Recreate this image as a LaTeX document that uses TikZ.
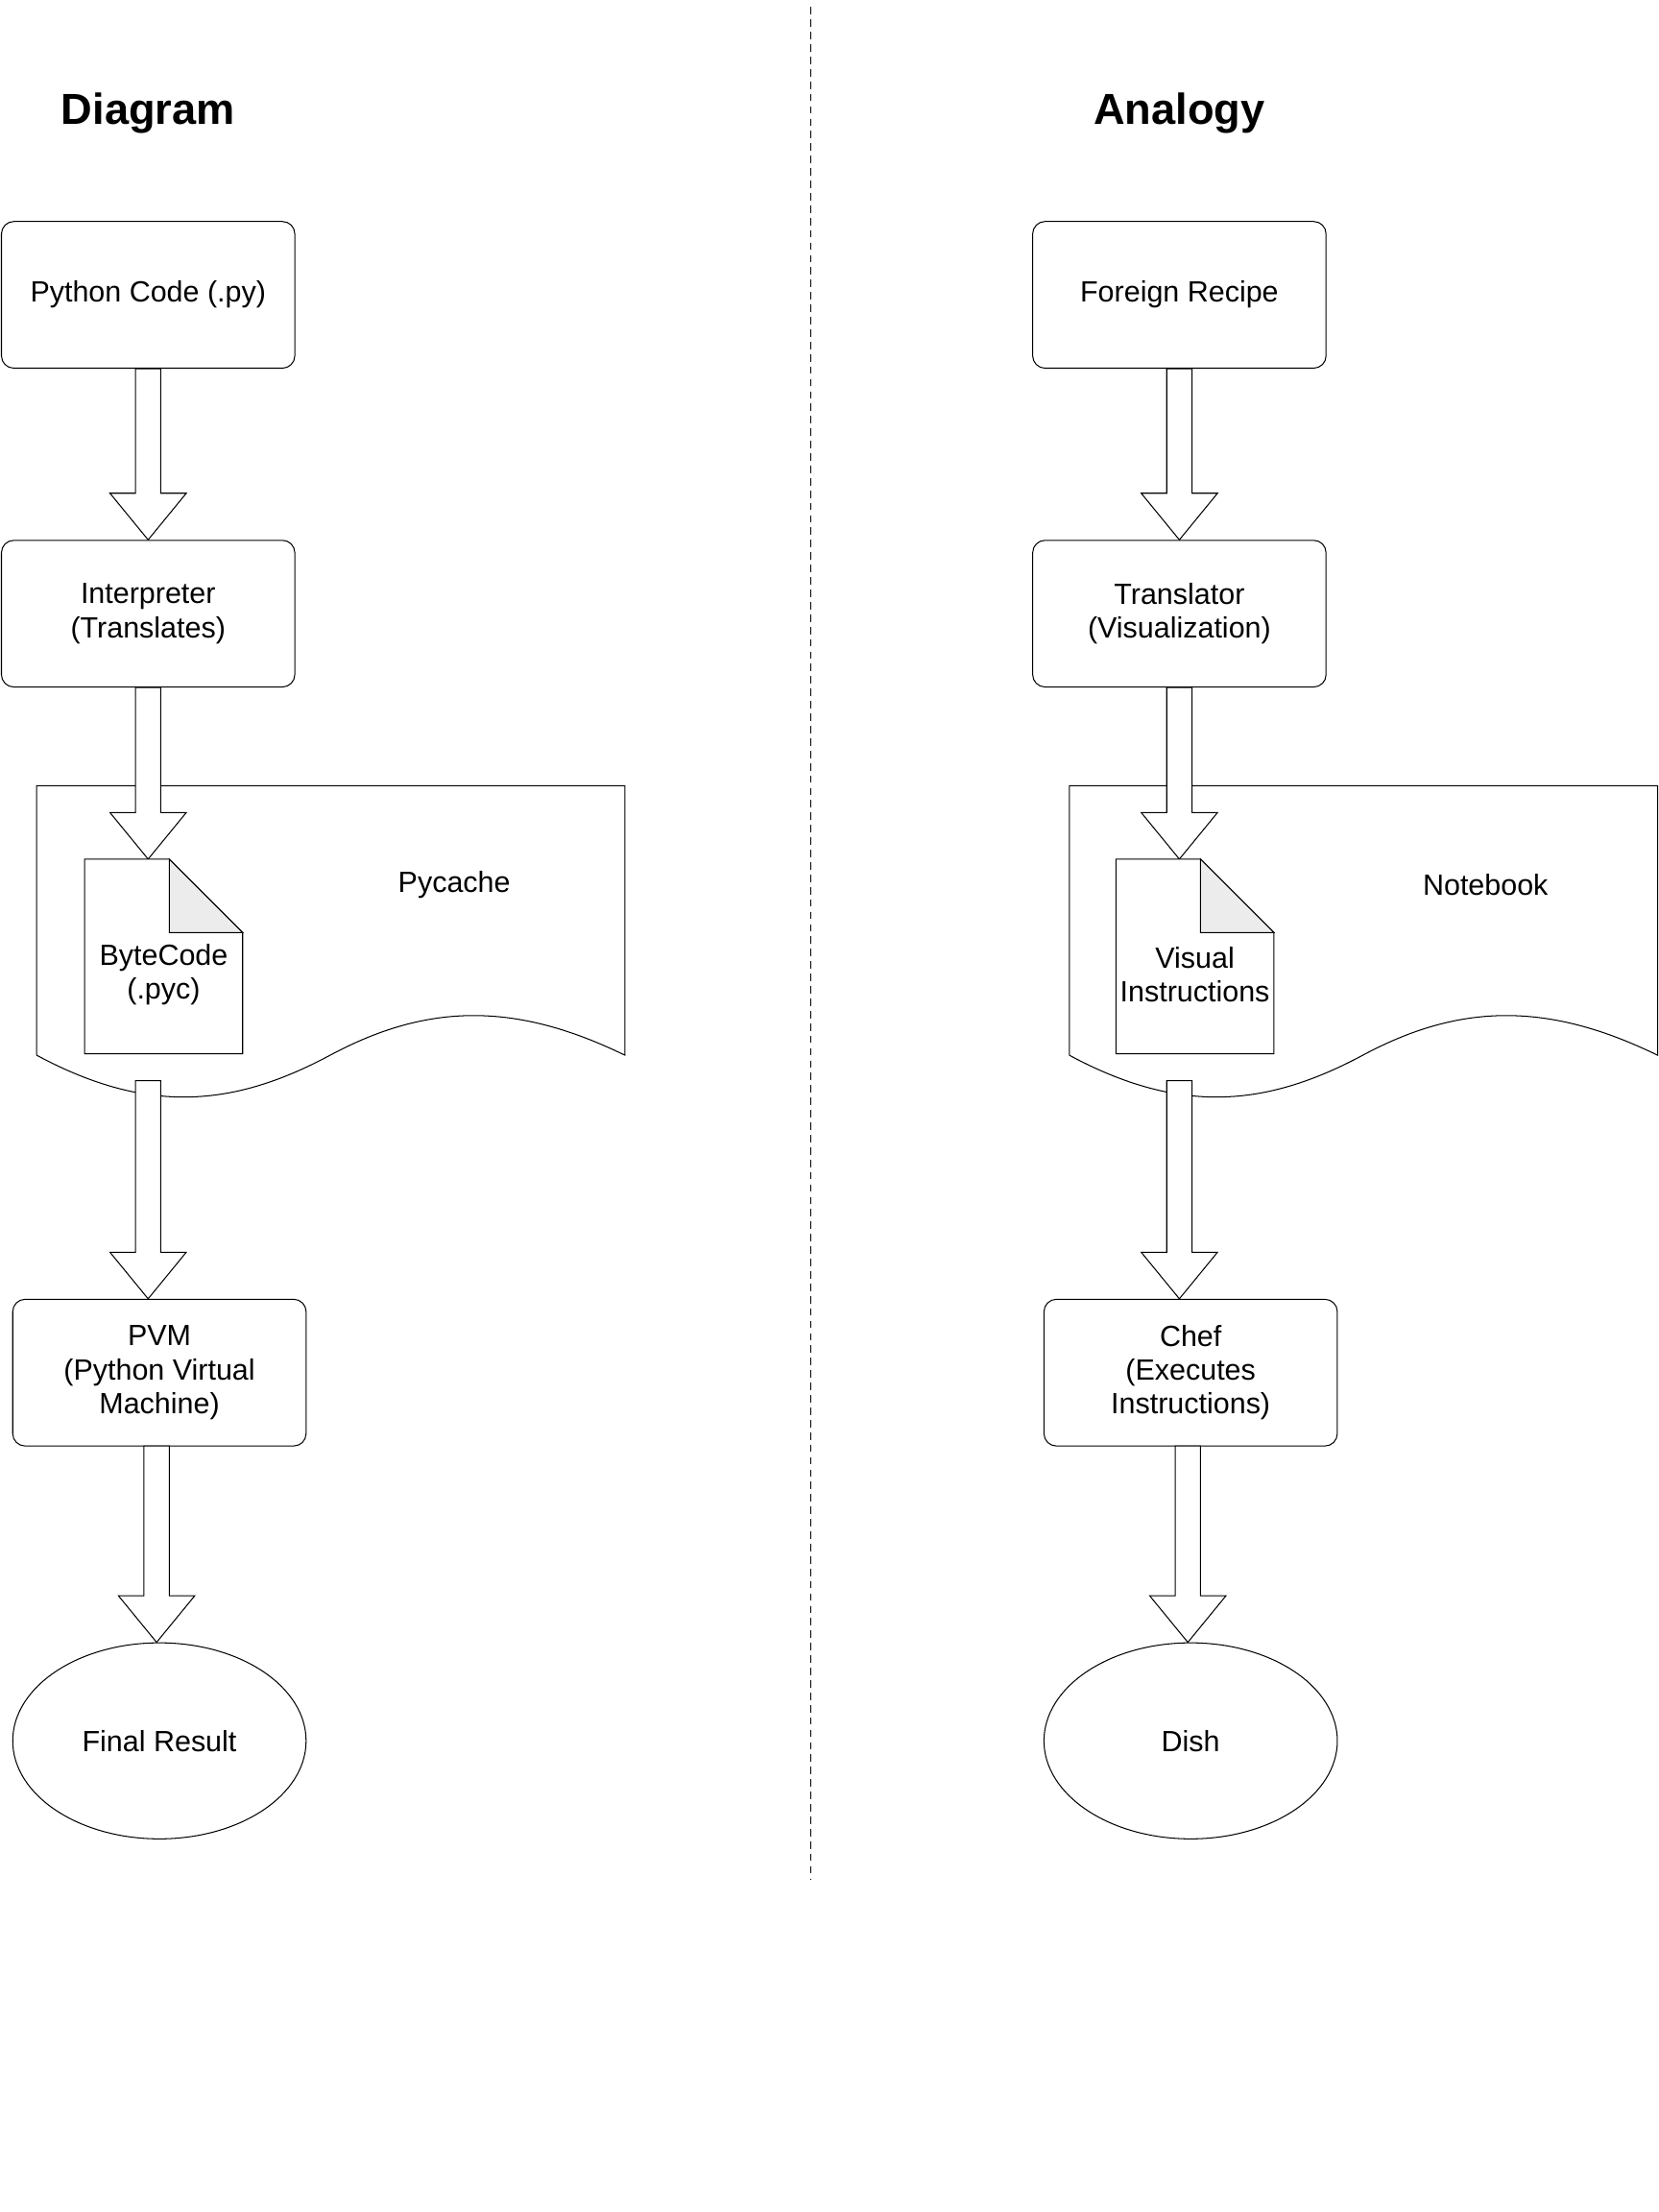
\documentclass[tikz,border=0pt]{standalone}
\usepackage{fontspec}
\setmainfont{Liberation Sans}
\usetikzlibrary{calc,shapes.geometric}

\tikzset{
  stage/.style={draw, rounded corners=5pt, minimum width=4.16cm, minimum height=2.08cm, align=center, font=\fontsize{11.8}{13.6}\selectfont},
  result/.style={draw, ellipse, minimum width=4.16cm, minimum height=2.78cm, font=\fontsize{11.8}{13.6}\selectfont},
  txt/.style={font=\fontsize{11.8}{13.6}\selectfont, align=center},
  title/.style={font=\fontsize{17.5}{20}\selectfont\bfseries},
  blockarrow/.style={draw, fill=white, line join=miter}
}

% downward hollow arrow between two points
\newcommand\blockarrow[2]{%
  \draw[blockarrow] let \p1=(#1), \p2=(#2) in
    (\x1-5.1pt,\y1) -- (\x1-5.1pt,\y2+18.8pt) -- (\x1-15.4pt,\y2+18.8pt) -- (\x1,\y2)
    -- (\x1+15.4pt,\y2+18.8pt) -- (\x1+5.1pt,\y2+18.8pt) -- (\x1+5.1pt,\y1) -- cycle;}

% paper with wavy bottom, shifted by #1
\newcommand\wavydoc[1]{%
  \draw[shift={(#1,0)}] (26,748) -- (26,557) -- (443,557) -- (443,748)
    .. controls (365,710) and (303,711) .. (234,748)
    .. controls (165,785) and (104,790) .. (26,748);}

% dog-eared sheet, shifted by #1
\newcommand\sheet[1]{%
  \draw[shift={(#1,0)}, fill=white] (60,609) -- (120,609) -- (172,661) -- (172,747) -- (60,747) -- cycle;
  \draw[shift={(#1,0)}, fill=gray!15] (120,609) -- (172,661) -- (120,661) -- cycle;}

\begin{document}
\begin{tikzpicture}[x=0.02cm, y=-0.02cm]
    \useasboundingbox (0,0) rectangle (1176,1568);

    % Titles and separator
    \node[title] (tdiag) at (105,80) {Diagram};
    \node[title] (tana) at (836,80) {Analogy};
    \draw[densely dashed] (575,5) -- (575,1332);

    % Left column
    \node[stage] (code) at (105,209) {Python Code (.py)};
    \node[stage] (interp) at (105,435) {Interpreter\\(Translates)};
    \wavydoc{0}
    \node[txt] (pycache) at (322,627) {Pycache};
    \node[stage] (pvm) at (113,973) {PVM\\(Python Virtual\\Machine)};
    \node[result] (final) at (113,1234) {Final Result};
    \coordinate (bctop) at (105,609);
    \coordinate (bcout) at (105,766);

    \blockarrow{code.south}{interp.north}
    \blockarrow{interp.south}{bctop}
    \sheet{0}
    \node[txt] (bytecode) at (116,691) {ByteCode\\(.pyc)};
    \blockarrow{bcout}{pvm.north}
    \coordinate (pvmout) at (111,1025);
    \blockarrow{pvmout}{final.north}

    % Right column
    \node[stage] (recipe) at (836,209) {Foreign Recipe};
    \node[stage] (trans) at (836,435) {Translator\\(Visualization)};
    \wavydoc{732}
    \node[txt] (notebook) at (1053,627) {Notebook};
    \node[stage] (chef) at (844,973) {Chef\\(Executes\\Instructions)};
    \node[result] (dish) at (844,1234) {Dish};
    \coordinate (vitop) at (836,609);
    \coordinate (viout) at (836,766);

    \blockarrow{recipe.south}{trans.north}
    \blockarrow{trans.south}{vitop}
    \sheet{731}
    \node[txt] (visual) at (847,691) {Visual\\Instructions};
    \blockarrow{viout}{chef.north}
    \coordinate (chefout) at (842,1025);
    \blockarrow{chefout}{dish.north}
\end{tikzpicture}
\end{document}
